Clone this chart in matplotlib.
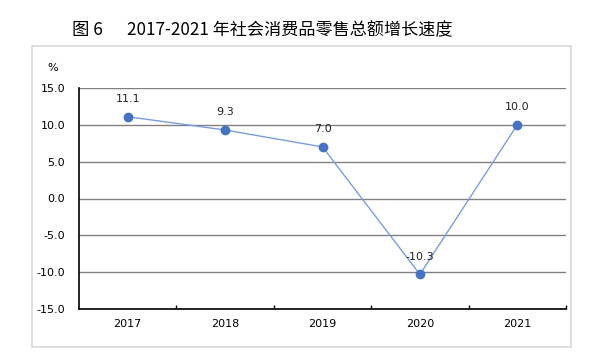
import matplotlib
matplotlib.use('Agg')
import matplotlib.pyplot as plt
from matplotlib.patches import Rectangle

plt.rcParams['font.family'] = ['DejaVu Sans', 'Noto Sans CJK SC']

# data
years = ['2017', '2018', '2019', '2020', '2021']
growth = [11.1, 9.3, 7.0, -10.3, 10.0]
labels = ['11.1', '9.3', '7.0', '-10.3', '10.0']
yticks = [-15, -10, -5, 0, 5, 10, 15]

fig = plt.figure(figsize=(6.03, 3.61), dpi=100)

# light frame around the plot area
fig.patches.append(Rectangle((32/603, 1-347/361), 539/603, 301/361,
                             transform=fig.transFigure, fill=False,
                             edgecolor='#D9D9D9', linewidth=1.2))

cjk = ['Noto Sans CJK SC', 'DejaVu Sans']
fig.text(72/603, 1-30/361, '图 6', ha='left', va='center', fontsize=12.5,
         family=cjk, weight='medium')
fig.text(127/603, 1-30/361, '2017-2021 年社会消费品零售总额增长速度',
         ha='left', va='center', fontsize=12.3, family=cjk, weight='medium')

ax = fig.add_axes([79/603, 1-309/361, 487/603, 221/361])
x = list(range(len(years)))
ax.plot(x, growth, color='#7A9EDD', linewidth=1.0, zorder=3)
ax.plot(x, growth, linestyle='None', marker='o', markersize=6,
        color='#4472C4', zorder=4)
for xi, yi, lb in zip(x, growth, labels):
    ax.annotate(lb, (xi, yi), xytext=(0, 9), textcoords='offset points',
                ha='center', va='bottom', fontsize=8, color='#222222')

ax.set_xlim(-0.5, len(years) - 0.5)
ax.set_ylim(-15, 15)
ax.set_yticks(yticks)
ax.set_yticklabels(['%.1f' % v for v in yticks], fontsize=8)
ax.set_xticks(x)
ax.set_xticklabels(years, fontsize=8)
ax.set_xticks([i + 0.5 for i in range(len(years))], minor=True)
ax.tick_params(axis='x', which='major', length=0, pad=7)
ax.tick_params(axis='x', which='minor', direction='in', length=3, width=1)
ax.tick_params(axis='y', length=0, pad=10)
ax.grid(axis='y', color='#808080', linewidth=1)
ax.set_axisbelow(True)
for s in ['top', 'right']:
    ax.spines[s].set_visible(False)
ax.spines['left'].set_linewidth(1.2)
ax.spines['bottom'].set_linewidth(1.2)

fig.text(53/603, 1-68/361, '%', ha='center', va='center', fontsize=8)

fig.savefig('out.png', dpi=100)
